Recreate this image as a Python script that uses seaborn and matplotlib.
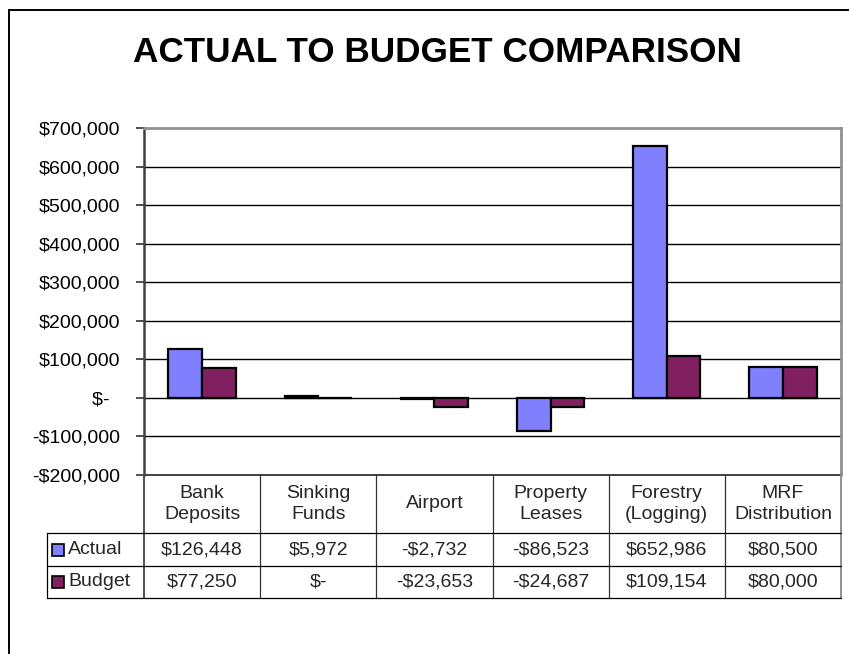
import matplotlib
matplotlib.use("Agg")
import matplotlib.pyplot as plt
from matplotlib.lines import Line2D
from matplotlib.patches import Rectangle
from matplotlib.ticker import FuncFormatter
import pandas as pd
import seaborn as sns

categories = ["Bank\nDeposits", "Sinking\nFunds", "Airport", "Property\nLeases",
              "Forestry\n(Logging)", "MRF\nDistribution"]
series_names = ["Actual", "Budget"]
actual = [126448, 5972, -2732, -86523, 652986, 80500]
budget = [77250, 0, -23653, -24687, 109154, 80000]
colors = ["#8080FF", "#802060"]
y_ticks = [-200000, -100000, 0, 100000, 200000, 300000, 400000, 500000, 600000, 700000]

sns.set_theme(style="white")
plt.rcParams["font.family"] = ["Liberation Sans", "DejaVu Sans"]

W, H = 849, 654
fig = plt.figure(figsize=(W / 100, H / 100), dpi=100)

def fx(px):
    return px / W

def fy(py):
    return 1 - py / H

ax_l, ax_r, ax_t, ax_b = 144, 841, 128, 475
ax = fig.add_axes([fx(ax_l), fy(ax_b), fx(ax_r) - fx(ax_l), fy(ax_t) - fy(ax_b)])

df = pd.DataFrame({
    "category": categories * 2,
    "series": [series_names[0]] * len(categories) + [series_names[1]] * len(categories),
    "value": actual + budget,
})

sns.barplot(data=df, x="category", y="value", hue="series", order=categories,
            hue_order=series_names, palette=colors, width=0.58, edgecolor="black",
            linewidth=1.6, legend=False, saturation=1, ax=ax, zorder=3)

ax.set_ylim(-200000, 700000)
ax.set_xlim(-0.5, len(categories) - 0.5)
ax.set_yticks(y_ticks)
ax.yaxis.set_major_formatter(FuncFormatter(
    lambda v, _: "$-  " if v == 0 else ("-$" if v < 0 else "$") + f"{abs(v):,.0f}"))
ax.tick_params(axis="y", length=6, width=1.2, color="#333333", labelsize=14,
               pad=11, left=True, labelcolor="black")
ax.set_xticks([])
ax.set_xlabel("")
ax.set_ylabel("")
for v in y_ticks[1:-1]:
    ax.axhline(v, color="black", linewidth=1.0, zorder=1)
for side in ["top", "right"]:
    ax.spines[side].set_color("#909090")
    ax.spines[side].set_linewidth(2.0)
ax.spines["left"].set_color("#404040")
ax.spines["left"].set_linewidth(1.8)
ax.spines["bottom"].set_color("#404040")
ax.spines["bottom"].set_linewidth(1.4)

# Title
fig.text(fx(437), fy(52), "ACTUAL TO BUDGET COMPARISON", ha="center", va="center",
         fontsize=25.3, fontweight="bold", color="black")

# Data table below the plot area
col_w = (ax_r - ax_l) / len(categories)
col_edges = [ax_l + i * col_w for i in range(len(categories) + 1)]
row_lines = [533, 566, 598]
legend_left = 47
tbl_bottom = 598
line_kw = dict(color="black", linewidth=0.9, transform=fig.transFigure)

for i, x in enumerate(col_edges):
    if i == 0:
        col, lw = "#505050", 1.4
    elif i == len(col_edges) - 1:
        col, lw = "#909090", 1.4
    else:
        col, lw = "#333333", 0.9
    fig.add_artist(Line2D([fx(x), fx(x)], [fy(ax_b), fy(tbl_bottom)],
                          color=col, linewidth=lw, transform=fig.transFigure))
for r in row_lines:
    fig.add_artist(Line2D([fx(legend_left), fx(ax_r)], [fy(r), fy(r)], **line_kw))
fig.add_artist(Line2D([fx(legend_left), fx(legend_left)], [fy(row_lines[0]), fy(tbl_bottom)],
                      **line_kw))

def fmt_money(v):
    if v == 0:
        return "$-"
    return ("-$" if v < 0 else "$") + f"{abs(v):,.0f}"

for i, cat in enumerate(categories):
    cx = (col_edges[i] + col_edges[i + 1]) / 2
    fig.text(fx(cx), fy(504), cat, ha="center", va="center", fontsize=14,
             linespacing=1.3)
    fig.text(fx(cx), fy(550), fmt_money(actual[i]), ha="center", va="center", fontsize=14)
    fig.text(fx(cx), fy(582), fmt_money(budget[i]), ha="center", va="center", fontsize=14)

for name, col, (top, bot) in zip(series_names, colors, [(533, 566), (566, 598)]):
    cy = (top + bot) / 2
    fig.add_artist(Rectangle((fx(52), fy(cy + 6)), fx(12), fy(cy - 6) - fy(cy + 6),
                             facecolor=col, edgecolor="black", linewidth=1.2,
                             transform=fig.transFigure))
    fig.text(fx(68), fy(cy), name, ha="left", va="center", fontsize=14)

# Outer chart frame
fig.add_artist(Rectangle((fx(9), fy(H + 10)), fx(W + 20), fy(10) - fy(H + 10),
                         facecolor="none", edgecolor="black", linewidth=1.4,
                         transform=fig.transFigure))

fig.savefig("out.png", dpi=100)
